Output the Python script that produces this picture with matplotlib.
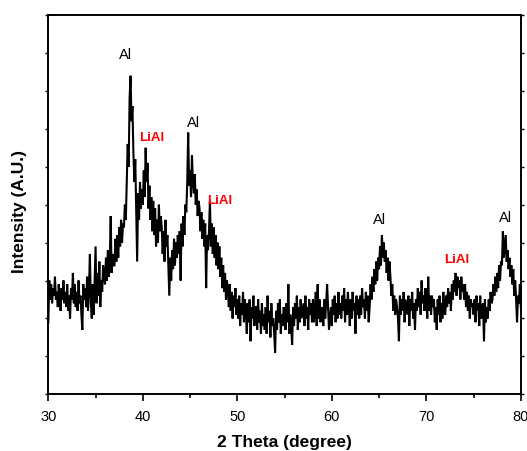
import numpy as np
import matplotlib
matplotlib.use("Agg")
import matplotlib.pyplot as plt

plt.rcParams['font.family'] = ['Liberation Sans', 'DejaVu Sans']

# 2-theta grid, 0.1 degree steps from 30 to 80
two_theta = np.round(np.arange(300, 801) / 10.0, 1)

intensity_rows = [
    [1.9, 3.0, 2.5, 2.9, 2.4, 2.8, 2.6, 3.1, 2.5, 2.7],  # 30
    [2.3, 2.9, 2.6, 2.2, 2.8, 2.5, 3.0, 2.4, 2.7, 2.3],  # 31
    [2.9, 2.2, 2.6, 2.0, 2.8, 2.5, 3.2, 2.4, 2.9, 2.3],  # 32
    [2.7, 2.2, 3.0, 2.4, 2.6, 2.1, 1.7, 2.9, 2.5, 2.8],  # 33
    [2.3, 3.1, 2.2, 2.8, 3.7, 2.4, 2.0, 2.9, 2.1, 3.0],  # 34
    [3.9, 2.4, 3.2, 2.6, 3.5, 2.3, 3.0, 2.7, 3.4, 3.1],  # 35
    [2.9, 3.6, 3.0, 3.8, 3.1, 3.5, 4.7, 3.2, 3.7, 3.4],  # 36
    [3.4, 4.1, 3.5, 4.2, 3.6, 4.4, 3.9, 4.6, 4.0, 4.5],  # 37
    [4.4, 5.0, 4.6, 5.6, 6.6, 6.0, 7.8, 8.4, 7.2, 7.6],  # 38
    [6.4, 5.6, 6.2, 4.8, 3.5, 5.3, 4.6, 5.6, 4.9, 5.4],  # 39
    [5.0, 5.9, 5.2, 6.5, 5.6, 6.1, 4.9, 5.5, 4.6, 5.2],  # 40
    [4.3, 5.1, 4.2, 4.9, 3.9, 4.6, 4.0, 5.0, 4.3, 4.7],  # 41
    [4.4, 3.7, 4.3, 3.5, 4.6, 3.9, 4.2, 3.4, 2.6, 3.6],  # 42
    [3.0, 3.8, 3.3, 4.1, 3.4, 4.0, 3.6, 4.2, 3.7, 4.3],  # 43
    [3.0, 4.5, 3.9, 4.7, 4.2, 5.0, 4.8, 5.6, 6.9, 5.5],  # 44
    [5.9, 5.2, 6.3, 5.6, 5.3, 5.8, 5.0, 5.4, 4.7, 5.1],  # 45
    [4.9, 4.3, 4.8, 4.1, 4.6, 3.9, 4.5, 2.8, 4.2, 3.8],  # 46
    [4.3, 5.1, 3.9, 4.5, 3.7, 4.4, 3.6, 4.2, 3.4, 4.0],  # 47
    [3.3, 3.9, 3.1, 3.6, 2.8, 3.4, 2.7, 3.2, 2.5, 3.0],  # 48
    [2.8, 2.3, 2.9, 2.2, 2.7, 2.0, 2.6, 2.3, 2.8, 2.1],  # 49
    [2.5, 2.0, 2.6, 1.8, 2.4, 2.1, 2.7, 1.9, 2.5, 2.2],  # 50
    [1.6, 2.4, 1.9, 2.5, 1.4, 2.3, 2.0, 2.6, 1.8, 2.3],  # 51
    [2.3, 1.7, 2.5, 1.9, 2.2, 1.6, 2.4, 1.8, 2.1, 1.7],  # 52
    [2.3, 1.6, 2.6, 1.9, 2.2, 1.5, 2.4, 1.8, 2.0, 1.6],  # 53
    [1.1, 2.2, 1.7, 2.4, 1.9, 2.5, 1.6, 2.1, 1.8, 2.3],  # 54
    [2.2, 1.7, 2.4, 1.9, 2.9, 1.6, 2.1, 1.8, 1.3, 2.3],  # 55
    [1.8, 2.4, 2.0, 2.6, 1.7, 2.3, 1.9, 2.5, 2.0, 2.2],  # 56
    [2.4, 1.8, 2.6, 2.0, 2.3, 1.7, 2.5, 2.1, 2.4, 1.9],  # 57
    [2.5, 1.9, 2.2, 2.7, 1.8, 2.9, 2.0, 2.5, 1.9, 2.3],  # 58
    [2.2, 1.8, 2.5, 2.0, 2.4, 2.9, 2.3, 1.7, 2.0, 2.3],  # 59
    [1.8, 2.5, 2.1, 2.6, 1.9, 2.4, 2.0, 2.7, 2.1, 2.4],  # 60
    [2.0, 2.6, 2.2, 2.8, 1.9, 2.5, 2.1, 2.7, 2.3, 1.8],  # 61
    [2.5, 2.0, 2.7, 2.2, 2.4, 1.6, 2.6, 2.1, 2.5, 2.0],  # 62
    [2.6, 2.1, 2.8, 2.3, 2.5, 2.0, 2.7, 2.2, 2.6, 1.9],  # 63
    [2.3, 2.9, 2.5, 3.1, 2.7, 3.3, 2.9, 3.5, 3.0, 3.6],  # 64
    [3.3, 3.9, 3.4, 4.2, 3.6, 4.0, 3.5, 3.8, 3.2, 3.6],  # 65
    [3.0, 3.5, 3.1, 2.6, 2.9, 2.2, 2.6, 2.1, 2.5, 2.3],  # 66
    [2.0, 1.4, 2.6, 2.1, 2.5, 2.2, 2.7, 1.9, 2.5, 2.3],  # 67
    [2.1, 2.6, 1.8, 2.5, 2.2, 2.7, 2.0, 2.4, 1.7, 2.5],  # 68
    [2.2, 2.8, 2.3, 2.7, 2.1, 3.0, 2.4, 2.6, 2.2, 2.8],  # 69
    [2.5, 2.0, 3.1, 2.2, 2.6, 2.1, 2.6, 2.3, 2.5, 1.9],  # 70
    [2.3, 1.7, 2.5, 2.1, 2.6, 1.9, 2.4, 2.0, 2.7, 2.2],  # 71
    [2.1, 2.6, 2.3, 2.8, 2.4, 2.7, 2.2, 2.9, 2.5, 3.0],  # 72
    [2.7, 3.2, 2.6, 3.1, 2.8, 3.0, 2.5, 3.1, 2.7, 2.9],  # 73
    [2.5, 2.9, 2.3, 2.7, 2.2, 2.6, 2.0, 2.5, 2.3, 2.4],  # 74
    [2.1, 2.5, 1.9, 2.6, 2.2, 2.4, 1.8, 2.6, 2.0, 2.3],  # 75
    [2.4, 1.4, 2.5, 1.9, 2.3, 2.0, 2.5, 2.2, 2.7, 2.4],  # 76
    [2.5, 2.9, 2.6, 3.1, 2.7, 3.2, 2.8, 3.4, 3.0, 3.5],  # 77
    [3.4, 4.3, 3.6, 3.9, 4.2, 3.5, 3.8, 3.3, 3.6, 3.1],  # 78
    [3.4, 2.9, 3.3, 2.6, 3.0, 2.5, 1.9, 2.6, 2.4, 2.9],  # 79
    [2.3],                                               # 80
]
intensity = np.array([v for row in intensity_rows for v in row])

# Peak labels
label_texts = ["Al", "LiAl", "Al", "LiAl", "Al", "LiAl", "Al"]
label_x = [38.15, 40.95, 45.35, 48.1, 65.0, 73.2, 78.35]
label_y = [8.95, 6.75, 7.15, 5.1, 4.6, 3.55, 4.65]
label_is_phase = [False, True, False, True, False, True, False]

fig = plt.figure(figsize=(5.27, 4.51), dpi=100)
ax = fig.add_axes([0.0917, 0.1257, 0.8966, 0.841])

ax.plot(two_theta, intensity, color='black', lw=1.5, solid_joinstyle='miter')

for t, x, y, red in zip(label_texts, label_x, label_y, label_is_phase):
    if red:
        ax.text(x, y, t, color='#ff0000', fontsize=9.5, fontweight='bold',
                ha='center', va='center')
    else:
        ax.text(x, y, t, color='black', fontsize=10.5, ha='center', va='center')

ax.set_xlim(30, 80)
ax.set_ylim(0, 10)
ax.set_xticks([30, 40, 50, 60, 70, 80])
ax.set_xticks([35, 45, 55, 65, 75], minor=True)
ax.set_yticks(np.arange(0, 11, 1))
ax.set_yticklabels([])
ax.tick_params(axis='x', which='major', direction='out', length=5, width=1.2,
               labelsize=10.5, pad=6)
ax.tick_params(axis='x', which='minor', direction='out', length=3, width=1.2)
ax.tick_params(axis='y', which='major', direction='out', length=2, width=1.0,
               left=True, right=True)
for s in ax.spines.values():
    s.set_linewidth(1.4)

ax.set_xlabel("2 Theta (degree)", fontsize=12.5, fontweight='bold')
ax.set_ylabel("Intensity (A.U.)", fontsize=12.5, fontweight='bold')
ax.xaxis.set_label_coords(0.5, -0.107)
ax.yaxis.set_label_coords(-0.045, 0.483)

fig.savefig("out.png", dpi=100)
